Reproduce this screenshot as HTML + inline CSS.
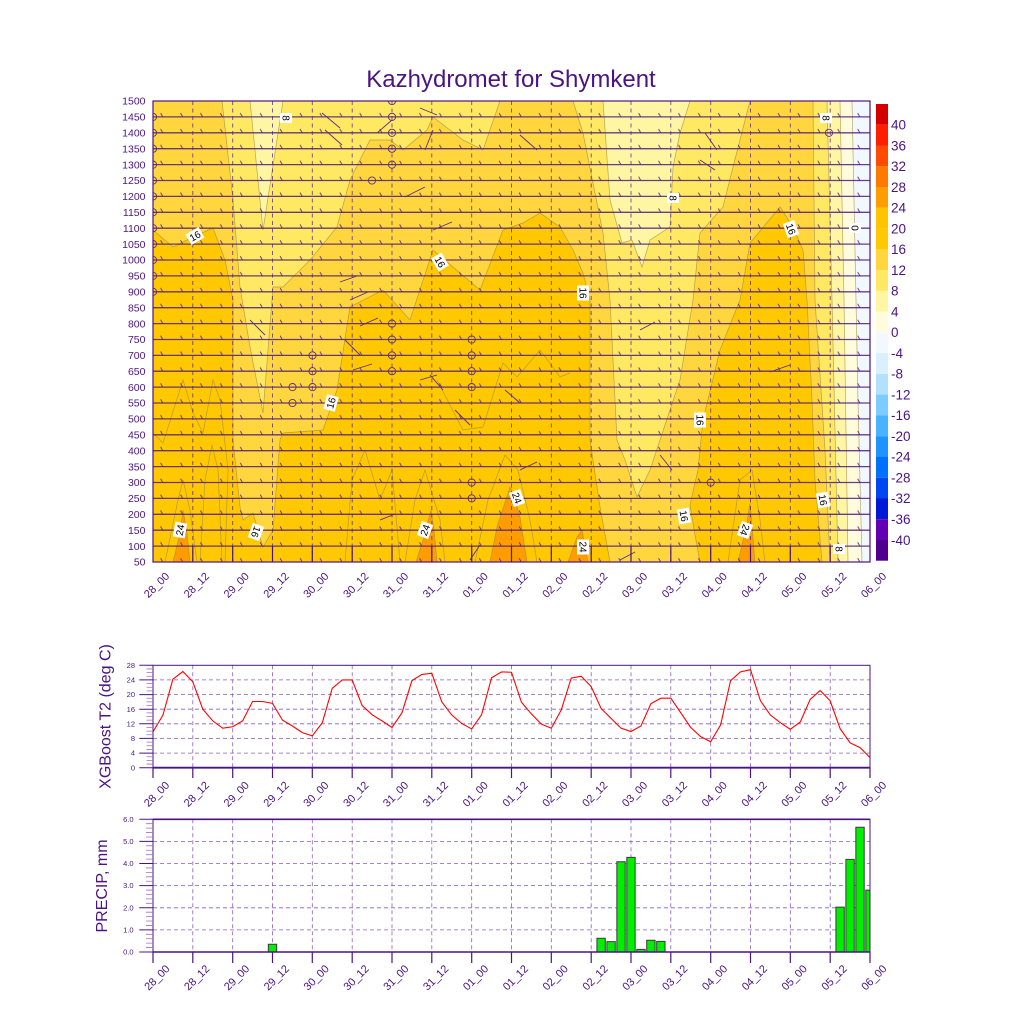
<!DOCTYPE html>
<html><head><meta charset="utf-8"><style>
html,body{margin:0;padding:0;background:#fff;}
svg{display:block;font-family:"Liberation Sans",Arial,sans-serif;}
</style></head><body>
<svg width="1024" height="1024" viewBox="0 0 1024 1024" xmlns="http://www.w3.org/2000/svg">
<defs>
<clipPath id="cp"><rect x="153" y="101" width="717" height="461"/></clipPath>
<pattern id="bp" patternUnits="userSpaceOnUse" x="153" y="93" width="19.917" height="15.897">
<path d="M7.6 4.2 L9.8 8" stroke="#5b2d86" stroke-width="0.9" fill="none"/>
</pattern>
</defs>
<rect width="1024" height="1024" fill="#fff"/>
<text x="511" y="87" font-size="24" text-anchor="middle" fill="#4b1482">Kazhydromet for Shymkent</text>

<!-- MAIN PLOT -->
<g clip-path="url(#cp)">
<rect x="153" y="101" width="717" height="461" fill="#ffc800"/>
<g stroke="#a08a4a" stroke-width="0.7" stroke-opacity="0.75">
<polygon fill="#ffd63e" points="153,101 870,101 870,562 822,562 815,480 812,400 807,300 803,250 793,227 780,207 750,243 740,300 720,350 703,420 698,470 690,505 695,535 700,562 610,562 600,507 590,440 590,300 583,273 573,250 560,227 540,213 523,223 503,230 480,290 433,250 410,320 383,290 350,307 337,390 323,430 283,433 280,440 273,530 263,547 253,513 243,520 240,507 233,440 233,300 225,260 213,228 193,237 173,247 153,230"/>
<polygon fill="#ffe862" points="222,101 500,101 483,150 463,140 433,117 427,130 403,150 390,140 370,140 350,180 337,227 310,260 283,287 273,287 263,413 250,347 240,287 233,200"/>
<polygon fill="#ffe862" points="573,101 750,101 733,167 723,207 700,233 693,300 680,380 660,440 650,470 637,497 625,460 617,440 610,300 603,233 593,183 583,133"/>
<polygon fill="#ffe862" points="813,101 870,101 870,562 830,562 825,450 815,300"/>
<polygon fill="#fff6a4" points="250,101 283,101 263,230"/>
<polygon fill="#fff6a4" points="603,101 690,101 680,133 673,167 670,227 650,240 642,267 632,240 622,243 610,200"/>
<polygon fill="#fff6a4" points="827,101 870,101 870,562 838,562 832,300"/>
<polygon fill="#fffcdc" points="840,101 870,101 870,562 848,562 844,300"/>
<polygon fill="#f2f8ff" points="852,101 870,101 870,562 862,562 858,400 854,200"/>
<polygon fill="#ff9c00" points="173,562 180,533 183,510 187,533 190,562"/>
<polygon fill="#ff9c00" points="416,562 423,540 431,510 434,530 437,562"/>
<polygon fill="#ff9c00" points="490,562 497,527 510,487 513,493 520,517 527,562"/>
<polygon fill="#ff9c00" points="568,562 577,537 582,530 588,562"/>
<polygon fill="#ff9c00" points="738,562 747,523 750,503 755,562"/>
<g fill="none">
<polyline points="153,433 163,443 183,380 193,413 203,433 213,380 220,400 228,470 225,562"/>
<polyline points="437,380 463,430 483,427 503,363 517,377 540,350 560,377 570,373"/>
<polyline points="475,562 488,500 505,455 518,470 530,520 537,562"/>
<polyline points="165,562 178,500 183,480 190,510 197,562"/>
<polyline points="405,562 415,500 425,470 440,520 445,562"/>
<polyline points="728,562 740,480 752,470 760,520 765,562"/>
<polyline points="200,562 205,480 212,445 218,470 222,562"/>
<polyline points="345,562 352,480 365,450 380,500 392,470 400,562"/>
</g>
</g>
<rect x="153" y="101" width="717" height="461" fill="url(#bp)"/>
<g stroke="#5b2d86" stroke-width="0.9" fill="none" stroke-dasharray="4 3.5" opacity="0.85">
<path d="M192.8 101V562M232.7 101V562M272.5 101V562M312.3 101V562M352.2 101V562M392 101V562M431.8 101V562M471.7 101V562M511.5 101V562M551.3 101V562M591.2 101V562M631 101V562M670.8 101V562M710.7 101V562M750.5 101V562M790.3 101V562M830.2 101V562"/>
</g>
<path stroke="#4e1c7c" stroke-width="1.3" stroke-opacity="0.85" fill="none" d="M153 116.9H870M153 132.8H870M153 148.7H870M153 164.6H870M153 180.5H870M153 196.4H870M153 212.3H870M153 228.2H870M153 244.1H870M153 260H870M153 275.9H870M153 291.8H870M153 307.7H870M153 323.6H870M153 339.5H870M153 355.4H870M153 371.2H870M153 387.1H870M153 403H870M153 418.9H870M153 434.8H870M153 450.7H870M153 466.6H870M153 482.5H870M153 498.4H870M153 514.3H870M153 530.2H870M153 546.1H870"/>
<path stroke="#5b2d86" stroke-width="0.9" fill="none" d="M322 113L340 128M325 130L342 145M420 108L437 115M425 150L433 130M405 197L425 187M433 230L452 222M340 282L357 276M350 300L368 292M360 326L378 318M345 340L360 355M353 370L372 364M430 375L443 390M420 380L437 375M377 133L392 120M520 135L537 150M705 133L717 150M700 160L715 170M455 410L470 425M470 560L480 545M505 390L520 403M250 320L265 335M640 330L655 322M770 372L790 365M620 560L635 552M380 520L395 514M520 470L537 462M660 455L672 470"/>
<g stroke="#5b2d86" stroke-width="0.9" fill="none">
<circle cx="392" cy="101" r="3.6"/><circle cx="392" cy="116.9" r="3.6"/><circle cx="392" cy="132.8" r="3.6"/><circle cx="392" cy="148.7" r="3.6"/><circle cx="392" cy="164.6" r="3.6"/>
<circle cx="392" cy="323.6" r="3.6"/><circle cx="392" cy="339.5" r="3.6"/><circle cx="392" cy="355.4" r="3.6"/><circle cx="392" cy="371.2" r="3.6"/>
<circle cx="372" cy="180.5" r="3.6"/>
<circle cx="471.7" cy="339.5" r="3.6"/><circle cx="471.7" cy="355.4" r="3.6"/><circle cx="471.7" cy="371.2" r="3.6"/><circle cx="471.7" cy="387.1" r="3.6"/>
<circle cx="471.7" cy="482.5" r="3.6"/><circle cx="471.7" cy="498.4" r="3.6"/>
<circle cx="312.5" cy="355.4" r="3.6"/><circle cx="312.5" cy="371.2" r="3.6"/><circle cx="312.5" cy="387.1" r="3.6"/>
<circle cx="292.5" cy="387.1" r="3.6"/><circle cx="292.5" cy="403" r="3.6"/>
<circle cx="710.7" cy="482.5" r="3.6"/><circle cx="829" cy="132.8" r="3.6"/>
<circle cx="153" cy="116.9" r="3.6"/><circle cx="153" cy="132.8" r="3.6"/><circle cx="153" cy="148.7" r="3.6"/><circle cx="153" cy="164.6" r="3.6"/><circle cx="153" cy="180.5" r="3.6"/><circle cx="153" cy="196.4" r="3.6"/><circle cx="153" cy="212.3" r="3.6"/><circle cx="153" cy="228.2" r="3.6"/><circle cx="153" cy="244.1" r="3.6"/><circle cx="153" cy="260" r="3.6"/><circle cx="153" cy="275.9" r="3.6"/><circle cx="153" cy="291.8" r="3.6"/>
</g>
<path stroke="#4b1482" stroke-width="1.2" fill="none" d="M192.8 546V562M232.7 546V562M272.5 546V562M312.3 546V562M352.2 546V562M392 546V562M431.8 546V562M471.7 546V562M511.5 546V562M551.3 546V562M591.2 546V562M631 546V562M670.8 546V562M710.7 546V562M750.5 546V562M790.3 546V562M830.2 546V562"/>
</g>
<!-- contour labels -->
<g font-size="10" text-anchor="middle" fill="#000">
<g transform="translate(195,236) rotate(-30)"><rect x="-7.5" y="-6" width="15" height="12" fill="#fff"/><text y="3.6">16</text></g>
<g transform="translate(286,118) rotate(90)"><rect x="-5" y="-6" width="10" height="12" fill="#fff"/><text y="3.6">8</text></g>
<g transform="translate(440,262) rotate(60)"><rect x="-7.5" y="-6" width="15" height="12" fill="#fff"/><text y="3.6">16</text></g>
<g transform="translate(331,403) rotate(-75)"><rect x="-7.5" y="-6" width="15" height="12" fill="#fff"/><text y="3.6">16</text></g>
<g transform="translate(583,293) rotate(90)"><rect x="-7.5" y="-6" width="15" height="12" fill="#fff"/><text y="3.6">16</text></g>
<g transform="translate(673,198) rotate(90)"><rect x="-5" y="-6" width="10" height="12" fill="#fff"/><text y="3.6">8</text></g>
<g transform="translate(791,229) rotate(70)"><rect x="-7.5" y="-6" width="15" height="12" fill="#fff"/><text y="3.6">16</text></g>
<g transform="translate(855,228) rotate(90)"><rect x="-5" y="-6" width="10" height="12" fill="#fff"/><text y="3.6">0</text></g>
<g transform="translate(826,118) rotate(90)"><rect x="-5" y="-6" width="10" height="12" fill="#fff"/><text y="3.6">8</text></g>
<g transform="translate(700,420) rotate(90)"><rect x="-7.5" y="-6" width="15" height="12" fill="#fff"/><text y="3.6">16</text></g>
<g transform="translate(684,516) rotate(80)"><rect x="-7.5" y="-6" width="15" height="12" fill="#fff"/><text y="3.6">16</text></g>
<g transform="translate(823,500) rotate(80)"><rect x="-7.5" y="-6" width="15" height="12" fill="#fff"/><text y="3.6">16</text></g>
<g transform="translate(839,549) rotate(90)"><rect x="-5" y="-6" width="10" height="12" fill="#fff"/><text y="3.6">8</text></g>
<g transform="translate(180,530) rotate(-80)"><rect x="-7.5" y="-6" width="15" height="12" fill="#fff"/><text y="3.6">24</text></g>
<g transform="translate(425,530) rotate(-70)"><rect x="-7.5" y="-6" width="15" height="12" fill="#fff"/><text y="3.6">24</text></g>
<g transform="translate(517,498) rotate(70)"><rect x="-7.5" y="-6" width="15" height="12" fill="#fff"/><text y="3.6">24</text></g>
<g transform="translate(583,547) rotate(90)"><rect x="-7.5" y="-6" width="15" height="12" fill="#fff"/><text y="3.6">24</text></g>
<g transform="translate(745,530) rotate(110)"><rect x="-7.5" y="-6" width="15" height="12" fill="#fff"/><text y="3.6">24</text></g>
<g transform="translate(256,532) rotate(110)"><rect x="-7.5" y="-6" width="15" height="12" fill="#fff"/><text y="3.6">16</text></g>
</g>
<rect x="153" y="101" width="717" height="461" fill="none" stroke="#4b1482" stroke-width="1.2"/>
<!-- main y labels -->
<g font-size="10.5" text-anchor="end" fill="#4b1482">
<text x="145.5" y="104.7">1500</text><text x="145.5" y="120.6">1450</text><text x="145.5" y="136.5">1400</text><text x="145.5" y="152.4">1350</text><text x="145.5" y="168.3">1300</text><text x="145.5" y="184.2">1250</text><text x="145.5" y="200.1">1200</text><text x="145.5" y="216">1150</text><text x="145.5" y="231.9">1100</text><text x="145.5" y="247.8">1050</text><text x="145.5" y="263.7">1000</text><text x="145.5" y="279.6">950</text><text x="145.5" y="295.5">900</text><text x="145.5" y="311.4">850</text><text x="145.5" y="327.3">800</text><text x="145.5" y="343.2">750</text><text x="145.5" y="359.1">700</text><text x="145.5" y="375">650</text><text x="145.5" y="390.9">600</text><text x="145.5" y="406.7">550</text><text x="145.5" y="422.6">500</text><text x="145.5" y="438.5">450</text><text x="145.5" y="454.4">400</text><text x="145.5" y="470.3">350</text><text x="145.5" y="486.2">300</text><text x="145.5" y="502.1">250</text><text x="145.5" y="518">200</text><text x="145.5" y="533.9">150</text><text x="145.5" y="549.8">100</text><text x="145.5" y="565.7">50</text>
</g>
<!-- main x labels -->
<g font-size="11" text-anchor="middle" fill="#4b1482">
<text transform="translate(156.5,585) rotate(-45)" dy=".35em">28_00</text><text transform="translate(196.3,585) rotate(-45)" dy=".35em">28_12</text><text transform="translate(236.2,585) rotate(-45)" dy=".35em">29_00</text><text transform="translate(276,585) rotate(-45)" dy=".35em">29_12</text><text transform="translate(315.8,585) rotate(-45)" dy=".35em">30_00</text><text transform="translate(355.7,585) rotate(-45)" dy=".35em">30_12</text><text transform="translate(395.5,585) rotate(-45)" dy=".35em">31_00</text><text transform="translate(435.3,585) rotate(-45)" dy=".35em">31_12</text><text transform="translate(475.2,585) rotate(-45)" dy=".35em">01_00</text><text transform="translate(515,585) rotate(-45)" dy=".35em">01_12</text><text transform="translate(554.8,585) rotate(-45)" dy=".35em">02_00</text><text transform="translate(594.7,585) rotate(-45)" dy=".35em">02_12</text><text transform="translate(634.5,585) rotate(-45)" dy=".35em">03_00</text><text transform="translate(674.3,585) rotate(-45)" dy=".35em">03_12</text><text transform="translate(714.2,585) rotate(-45)" dy=".35em">04_00</text><text transform="translate(754,585) rotate(-45)" dy=".35em">04_12</text><text transform="translate(793.8,585) rotate(-45)" dy=".35em">05_00</text><text transform="translate(833.7,585) rotate(-45)" dy=".35em">05_12</text><text transform="translate(873.5,585) rotate(-45)" dy=".35em">06_00</text>
</g>
<!-- colorbar -->
<g>
<rect x="876" y="104" width="12" height="20.8" fill="#d40000"/>
<rect x="876" y="124.8" width="12" height="20.8" fill="#ff1e00"/>
<rect x="876" y="145.5" width="12" height="20.8" fill="#ff4b00"/>
<rect x="876" y="166.3" width="12" height="20.8" fill="#ff7800"/>
<rect x="876" y="187" width="12" height="20.8" fill="#ff9c00"/>
<rect x="876" y="207.8" width="12" height="20.8" fill="#ffc400"/>
<rect x="876" y="228.6" width="12" height="20.8" fill="#ffc800"/>
<rect x="876" y="249.3" width="12" height="20.8" fill="#ffd63e"/>
<rect x="876" y="270.1" width="12" height="20.8" fill="#ffe862"/>
<rect x="876" y="290.8" width="12" height="20.8" fill="#fff6a4"/>
<rect x="876" y="311.6" width="12" height="20.8" fill="#fffcdc"/>
<rect x="876" y="332.4" width="12" height="20.8" fill="#f2f8ff"/>
<rect x="876" y="353.1" width="12" height="20.8" fill="#daf0ff"/>
<rect x="876" y="373.9" width="12" height="20.8" fill="#b2e0ff"/>
<rect x="876" y="394.6" width="12" height="20.8" fill="#7ccdff"/>
<rect x="876" y="415.4" width="12" height="20.8" fill="#48b4ff"/>
<rect x="876" y="436.2" width="12" height="20.8" fill="#1e94ff"/>
<rect x="876" y="456.9" width="12" height="20.8" fill="#0070ff"/>
<rect x="876" y="477.7" width="12" height="20.8" fill="#0046f0"/>
<rect x="876" y="498.4" width="12" height="20.8" fill="#0018d8"/>
<rect x="876" y="519.2" width="12" height="20.8" fill="#6400b4"/>
<rect x="876" y="540" width="12" height="20.7" fill="#50008c"/>
</g>
<g font-size="13.5" fill="#4b1482">
<text x="891" y="129.6">40</text><text x="891" y="150.3">36</text><text x="891" y="171.1">32</text><text x="891" y="191.8">28</text><text x="891" y="212.6">24</text><text x="891" y="233.4">20</text><text x="891" y="254.1">16</text><text x="891" y="274.9">12</text><text x="891" y="295.6">8</text><text x="891" y="316.4">4</text><text x="891" y="337.2">0</text><text x="891" y="357.9">-4</text><text x="891" y="378.7">-8</text><text x="891" y="399.4">-12</text><text x="891" y="420.2">-16</text><text x="891" y="441">-20</text><text x="891" y="461.7">-24</text><text x="891" y="482.5">-28</text><text x="891" y="503.2">-32</text><text x="891" y="524">-36</text><text x="891" y="544.8">-40</text>
</g>

<!-- T2 CHART -->
<g stroke="#8c5cc0" stroke-width="0.8" stroke-dasharray="4 3" fill="none">
<path d="M153 753.1H870M153 738.4H870M153 723.8H870M153 709.2H870M153 694.6H870M153 679.9H870"/>
<path d="M192.8 665.3V767.7M232.7 665.3V767.7M272.5 665.3V767.7M312.3 665.3V767.7M352.2 665.3V767.7M392 665.3V767.7M431.8 665.3V767.7M471.7 665.3V767.7M511.5 665.3V767.7M551.3 665.3V767.7M591.2 665.3V767.7M631 665.3V767.7M670.8 665.3V767.7M710.7 665.3V767.7M750.5 665.3V767.7M790.3 665.3V767.7M830.2 665.3V767.7"/>
</g>
<g transform="translate(153,767.7) scale(9.958,-3.657)">
<polyline fill="none" stroke="#ff0000" stroke-width="1.1" vector-effect="non-scaling-stroke" points="0,9.8 1,14.4 2,24.2 3,26.3 4,23.5 5,16 6,12.8 7,10.8 8,11.2 9,12.8 10,18.1 11,18.1 12,17.6 13,13 14,11.4 15,9.6 16,8.7 17,12.3 18,21.7 19,24 20,24 21,17 22,14.5 23,12.8 24,11 25,15 26,23.8 27,25.5 28,25.8 29,18 30,14.4 31,12.1 32,10.6 33,14.5 34,24.6 35,26.2 36,26.1 37,17.9 38,14.7 39,11.9 40,10.8 41,15.8 42,24.5 43,25 44,22.2 45,16.2 46,13.5 47,10.8 48,9.9 49,11.4 50,17.5 51,19 52,19 53,15 54,11 55,8.5 56,7.1 57,11.7 58,23.8 59,26.2 60,26.8 61,18.3 62,14.4 63,12.3 64,10.5 65,12.5 66,18.7 67,21.1 68,18.3 69,10.7 70,6.8 71,5.5 72,2.8"/>
</g>
<rect x="153" y="665.3" width="717" height="102.4" fill="none" stroke="#4b1482" stroke-width="1"/>
<path d="M153 767.7H870" stroke="#4b1482" stroke-width="1.8"/>
<g transform="translate(0,767.7) scale(1,-3.657)" stroke="#9a72c4" stroke-width="0.8" vector-effect="non-scaling-stroke">
<path vector-effect="non-scaling-stroke" fill="none" d="M146.5 1H153M146.5 2H153M146.5 3H153M146.5 5H153M146.5 6H153M146.5 7H153M146.5 9H153M146.5 10H153M146.5 11H153M146.5 13H153M146.5 14H153M146.5 15H153M146.5 17H153M146.5 18H153M146.5 19H153M146.5 21H153M146.5 22H153M146.5 23H153M146.5 25H153M146.5 26H153M146.5 27H153"/>
</g>
<path stroke="#4b1482" stroke-width="1" fill="none" d="M139.3 767.7H153M139.3 753.1H153M139.3 738.4H153M139.3 723.8H153M139.3 709.2H153M139.3 694.6H153M139.3 679.9H153M139.3 665.3H153"/>
<path stroke="#4b1482" stroke-width="1.2" fill="none" d="M153 767.7V778M192.8 767.7V778M232.7 767.7V778M272.5 767.7V778M312.3 767.7V778M352.2 767.7V778M392 767.7V778M431.8 767.7V778M471.7 767.7V778M511.5 767.7V778M551.3 767.7V778M591.2 767.7V778M631 767.7V778M670.8 767.7V778M710.7 767.7V778M750.5 767.7V778M790.3 767.7V778M830.2 767.7V778M870 767.7V778"/>
<g font-size="7.5" text-anchor="end" fill="#4b1482">
<text x="135" y="770.3">0</text><text x="135" y="755.7">4</text><text x="135" y="741">8</text><text x="135" y="726.4">12</text><text x="135" y="711.8">16</text><text x="135" y="697.2">20</text><text x="135" y="682.5">24</text><text x="135" y="667.9">28</text>
</g>
<text transform="translate(110.5,716.5) rotate(-90)" font-size="16" text-anchor="middle" fill="#4b1482">XGBoost T2 (deg C)</text>
<g font-size="11" text-anchor="middle" fill="#4b1482">
<text transform="translate(156.5,794) rotate(-45)" dy=".35em">28_00</text><text transform="translate(196.3,794) rotate(-45)" dy=".35em">28_12</text><text transform="translate(236.2,794) rotate(-45)" dy=".35em">29_00</text><text transform="translate(276,794) rotate(-45)" dy=".35em">29_12</text><text transform="translate(315.8,794) rotate(-45)" dy=".35em">30_00</text><text transform="translate(355.7,794) rotate(-45)" dy=".35em">30_12</text><text transform="translate(395.5,794) rotate(-45)" dy=".35em">31_00</text><text transform="translate(435.3,794) rotate(-45)" dy=".35em">31_12</text><text transform="translate(475.2,794) rotate(-45)" dy=".35em">01_00</text><text transform="translate(515,794) rotate(-45)" dy=".35em">01_12</text><text transform="translate(554.8,794) rotate(-45)" dy=".35em">02_00</text><text transform="translate(594.7,794) rotate(-45)" dy=".35em">02_12</text><text transform="translate(634.5,794) rotate(-45)" dy=".35em">03_00</text><text transform="translate(674.3,794) rotate(-45)" dy=".35em">03_12</text><text transform="translate(714.2,794) rotate(-45)" dy=".35em">04_00</text><text transform="translate(754,794) rotate(-45)" dy=".35em">04_12</text><text transform="translate(793.8,794) rotate(-45)" dy=".35em">05_00</text><text transform="translate(833.7,794) rotate(-45)" dy=".35em">05_12</text><text transform="translate(873.5,794) rotate(-45)" dy=".35em">06_00</text>
</g>

<!-- PRECIP CHART -->
<g stroke="#8c5cc0" stroke-width="0.8" stroke-dasharray="4 3" fill="none">
<path d="M153 929.9H870M153 907.8H870M153 885.6H870M153 863.5H870M153 841.4H870"/>
<path d="M192.8 819.3V952M232.7 819.3V952M272.5 819.3V952M312.3 819.3V952M352.2 819.3V952M392 819.3V952M431.8 819.3V952M471.7 819.3V952M511.5 819.3V952M551.3 819.3V952M591.2 819.3V952M631 819.3V952M670.8 819.3V952M710.7 819.3V952M750.5 819.3V952M790.3 819.3V952M830.2 819.3V952"/>
</g>
<g transform="translate(153,952) scale(9.958,-22.12)" fill="#00ee00" stroke="#3a3a3a" stroke-width="1">
<rect vector-effect="non-scaling-stroke" x="11.58" y="0" width="0.84" height="0.35"/>
<rect vector-effect="non-scaling-stroke" x="44.58" y="0" width="0.84" height="0.62"/>
<rect vector-effect="non-scaling-stroke" x="45.58" y="0" width="0.84" height="0.47"/>
<rect vector-effect="non-scaling-stroke" x="46.58" y="0" width="0.84" height="4.08"/>
<rect vector-effect="non-scaling-stroke" x="47.58" y="0" width="0.84" height="4.28"/>
<rect vector-effect="non-scaling-stroke" x="48.58" y="0" width="0.84" height="0.12"/>
<rect vector-effect="non-scaling-stroke" x="49.58" y="0" width="0.84" height="0.53"/>
<rect vector-effect="non-scaling-stroke" x="50.58" y="0" width="0.84" height="0.48"/>
<rect vector-effect="non-scaling-stroke" x="68.58" y="0" width="0.84" height="2.03"/>
<rect vector-effect="non-scaling-stroke" x="69.58" y="0" width="0.84" height="4.19"/>
<rect vector-effect="non-scaling-stroke" x="70.58" y="0" width="0.84" height="5.64"/>
<rect vector-effect="non-scaling-stroke" x="71.58" y="0" width="0.42" height="2.8"/>
</g>
<rect x="153" y="819.3" width="717" height="132.7" fill="none" stroke="#4b1482" stroke-width="1"/>
<path d="M153 952H870M153 819.3H870" stroke="#4b1482" stroke-width="1.6"/>
<g transform="translate(0,952) scale(1,-22.12)">
<path vector-effect="non-scaling-stroke" stroke="#9a72c4" stroke-width="0.8" fill="none" d="M146 0.2H153M146 0.4H153M146 0.6H153M146 0.8H153M146 1.2H153M146 1.4H153M146 1.6H153M146 1.8H153M146 2.2H153M146 2.4H153M146 2.6H153M146 2.8H153M146 3.2H153M146 3.4H153M146 3.6H153M146 3.8H153M146 4.2H153M146 4.4H153M146 4.6H153M146 4.8H153M146 5.2H153M146 5.4H153M146 5.6H153M146 5.8H153"/>
</g>
<path stroke="#4b1482" stroke-width="1" fill="none" d="M139.3 952H153M139.3 929.9H153M139.3 907.8H153M139.3 885.6H153M139.3 863.5H153M139.3 841.4H153M139.3 819.3H153"/>
<path stroke="#4b1482" stroke-width="1.2" fill="none" d="M153 952V963M192.8 952V963M232.7 952V963M272.5 952V963M312.3 952V963M352.2 952V963M392 952V963M431.8 952V963M471.7 952V963M511.5 952V963M551.3 952V963M591.2 952V963M631 952V963M670.8 952V963M710.7 952V963M750.5 952V963M790.3 952V963M830.2 952V963M870 952V963"/>
<g font-size="7.5" text-anchor="end" fill="#4b1482">
<text x="133.5" y="954.6">0.0</text><text x="133.5" y="932.5">1.0</text><text x="133.5" y="910.4">2.0</text><text x="133.5" y="888.2">3.0</text><text x="133.5" y="866.1">4.0</text><text x="133.5" y="844">5.0</text><text x="133.5" y="821.9">6.0</text>
</g>
<text transform="translate(107,886) rotate(-90)" font-size="16" text-anchor="middle" fill="#4b1482">PRECIP, mm</text>
<g font-size="11" text-anchor="middle" fill="#4b1482">
<text transform="translate(156.8,977.5) rotate(-45)" dy=".35em">28_00</text><text transform="translate(196.6,977.5) rotate(-45)" dy=".35em">28_12</text><text transform="translate(236.5,977.5) rotate(-45)" dy=".35em">29_00</text><text transform="translate(276.3,977.5) rotate(-45)" dy=".35em">29_12</text><text transform="translate(316.1,977.5) rotate(-45)" dy=".35em">30_00</text><text transform="translate(356,977.5) rotate(-45)" dy=".35em">30_12</text><text transform="translate(395.8,977.5) rotate(-45)" dy=".35em">31_00</text><text transform="translate(435.6,977.5) rotate(-45)" dy=".35em">31_12</text><text transform="translate(475.5,977.5) rotate(-45)" dy=".35em">01_00</text><text transform="translate(515.3,977.5) rotate(-45)" dy=".35em">01_12</text><text transform="translate(555.1,977.5) rotate(-45)" dy=".35em">02_00</text><text transform="translate(595,977.5) rotate(-45)" dy=".35em">02_12</text><text transform="translate(634.8,977.5) rotate(-45)" dy=".35em">03_00</text><text transform="translate(674.6,977.5) rotate(-45)" dy=".35em">03_12</text><text transform="translate(714.5,977.5) rotate(-45)" dy=".35em">04_00</text><text transform="translate(754.3,977.5) rotate(-45)" dy=".35em">04_12</text><text transform="translate(794.1,977.5) rotate(-45)" dy=".35em">05_00</text><text transform="translate(834,977.5) rotate(-45)" dy=".35em">05_12</text><text transform="translate(873.8,977.5) rotate(-45)" dy=".35em">06_00</text>
</g>
</svg>
</body></html>
